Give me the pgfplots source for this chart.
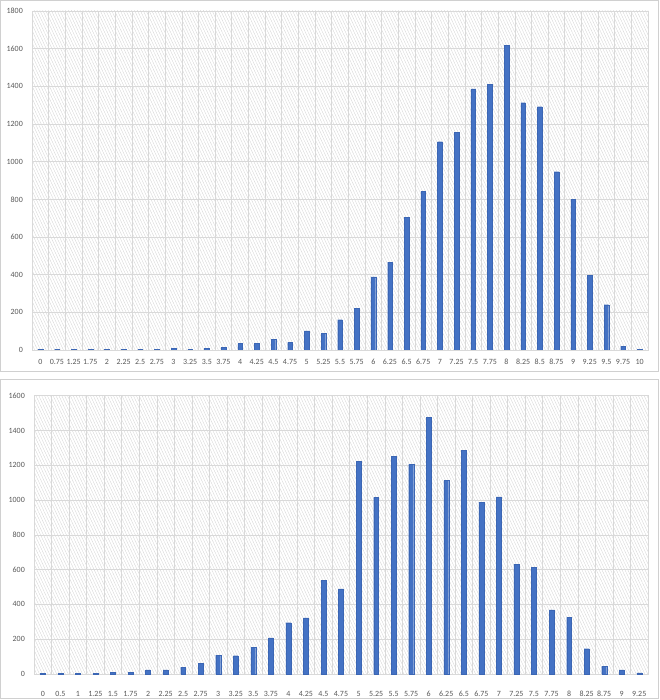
\documentclass[border=0pt]{standalone}
\usepackage{pgfplots}
\pgfplotsset{compat=1.18}
\usepackage{fontspec}
\setmainfont{Carlito}
\usetikzlibrary{patterns.meta}
\definecolor{barblue}{HTML}{4472C4}
\definecolor{baredge}{HTML}{3B66B4}
\definecolor{gridc}{HTML}{D9D9D9}
\definecolor{labc}{HTML}{595959}
\definecolor{framec}{HTML}{D0D0D0}
\pgfplotsset{
  excelstyle/.style={
    scale only axis,
    anchor=south west,
    xmin=-0.5,
    ymin=0,
    axis line style={draw=gridc, line width=0.6bp},
    major tick length=0pt,
    minor tick length=0pt,
    ymajorgrids,
    xminorgrids,
    major grid style={draw=gridc, line width=0.6bp},
    minor grid style={draw=gridc, line width=0.6bp},
    axis background/.style={preaction={fill=white}, pattern={Lines[angle=-65,distance=2.6bp,line width=0.3bp]}, pattern color=black!18},
    tick label style={font=\fontsize{8}{9}\selectfont, text=labc, inner sep=0pt},
    y tick label style={xshift=-9bp},
    x tick label style={anchor=north, yshift=-9bp},
    /pgf/number format/assume math mode=true,
    /pgf/number format/1000 sep={},
    ytick distance=200,
  },
  excelbar/.style={ybar, bar width=0.28, fill=barblue, draw=baredge, line width=0.2bp},
}
\begin{document}
\begin{tikzpicture}
\path[use as bounding box, fill=white] (0bp,0bp) rectangle (660bp,700bp);
\draw[framec, line width=0.8bp, fill=white] (0.6bp,328.5bp) rectangle (658.5bp,699.4bp);
\draw[framec, line width=0.8bp, fill=white] (0.6bp,2bp) rectangle (658.5bp,321bp);
% top chart
\begin{axis}[excelstyle,
  at={(32bp,350bp)}, width=616bp, height=339bp,
  xmax=36.5, ymax=1800,
  xtick={0,...,36},
  minor xtick={-0.5,0.5,...,36.5},
  xticklabels={0,0.75,1.25,1.75,2,2.25,2.5,2.75,3,3.25,3.5,3.75,4,4.25,4.5,4.75,5,5.25,5.5,5.75,6,6.25,6.5,6.75,7,7.25,7.5,7.75,8,8.25,8.5,8.75,9,9.25,9.5,9.75,10},
]
\addplot[excelbar] coordinates {
(0,5) (1,5) (2,5) (3,5) (4,5) (5,5) (6,5) (7,5) (8,8) (9,5)
(10,8) (11,14) (12,34) (13,37) (14,57) (15,41) (16,101) (17,90) (18,161) (19,221)
(20,388) (21,467) (22,703) (23,842) (24,1106) (25,1156) (26,1386) (27,1412) (28,1618) (29,1313)
(30,1292) (31,947) (32,800) (33,398) (34,241) (35,21) (36,5)
};
\end{axis}
% bottom chart
\begin{axis}[excelstyle,
  at={(34bp,26bp)}, width=614bp, height=278.3bp,
  xmax=34.5, ymax=1600,
  xtick={0,...,34},
  minor xtick={-0.5,0.5,...,34.5},
  xticklabels={0,0.5,1,1.25,1.5,1.75,2,2.25,2.5,2.75,3,3.25,3.5,3.75,4,4.25,4.5,4.75,5,5.25,5.5,5.75,6,6.25,6.5,6.75,7,7.25,7.5,7.75,8,8.25,8.75,9,9.25},
  x tick label style={yshift=-8bp},
]
\addplot[excelbar] coordinates {
(0,4) (1,4) (2,4) (3,4) (4,10) (5,10) (6,23) (7,23) (8,40) (9,63)
(10,109) (11,105) (12,155) (13,207) (14,295) (15,322) (16,540) (17,489) (18,1222) (19,1015)
(20,1253) (21,1205) (22,1477) (23,1113) (24,1285) (25,988) (26,1019) (27,632) (28,615) (29,368)
(30,326) (31,146) (32,44) (33,23) (34,6)
};
\end{axis}
\end{tikzpicture}
\end{document}
